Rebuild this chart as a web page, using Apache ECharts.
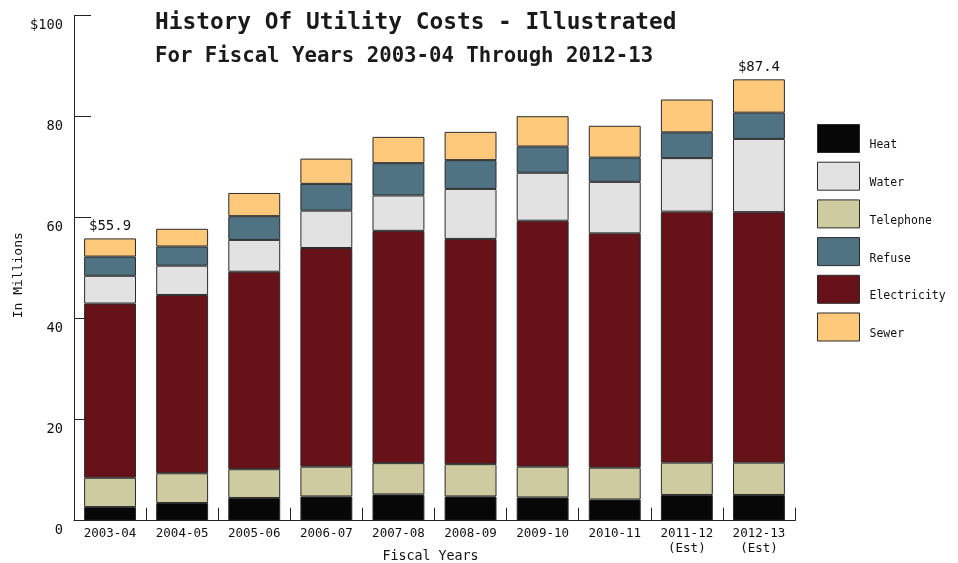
<!DOCTYPE html>
<html>
<head>
<meta charset="utf-8">
<script src="https://cdn.jsdelivr.net/npm/echarts@6/dist/echarts.min.js"></script>
<style>
html,body{margin:0;padding:0;background:#fff;}
#chart{width:958px;height:563px;}
</style>
</head>
<body>
<div id="chart"></div>
<script>
var categories = ['2003-04','2004-05','2005-06','2006-07','2007-08','2008-09','2009-10','2010-11','2011-12\n(Est)','2012-13\n(Est)'];
var heat        = [2.7, 3.5, 4.5, 4.8, 5.2, 4.8, 4.6, 4.2, 5.1, 5.1];
var telephone   = [5.8, 5.9, 5.7, 5.9, 6.2, 6.4, 6.1, 6.3, 6.4, 6.4];
var electricity = [34.5, 35.3, 39.1, 43.3, 46.0, 44.6, 48.7, 46.4, 49.7, 49.6];
var water       = [5.5, 5.8, 6.3, 7.4, 7.0, 9.9, 9.5, 10.2, 10.6, 14.5];
var refuse      = [3.8, 3.8, 4.7, 5.3, 6.4, 5.7, 5.2, 4.8, 5.1, 5.2];
var sewer       = [3.6, 3.5, 4.6, 5.0, 5.2, 5.6, 6.0, 6.3, 6.5, 6.6];
var totalLabels = ['$55.9','','','','','','','','','$87.4'];
var yTickLabels = {0:'0',20:'20',40:'40',60:'60',80:'80',100:'$100'};
var legendOrder = ['Heat','Water','Telephone','Refuse','Electricity','Sewer'];

var mono = 'DejaVu Sans Mono';
var colors = {
  Heat:'#070707', Telephone:'#cfcba1', Electricity:'#671118',
  Water:'#e1e2e1', Refuse:'#4f7383', Sewer:'#fec97b'
};
var stackDefs = [
  ['Heat', heat], ['Telephone', telephone], ['Electricity', electricity],
  ['Water', water], ['Refuse', refuse], ['Sewer', sewer]
];
var series = stackDefs.map(function(d, si){
  var name = d[0];
  var data = d[1].map(function(v, i){
    if (name === 'Sewer' && totalLabels[i]) {
      return {value: v, label: {show: true, formatter: totalLabels[i]}};
    }
    return v;
  });
  return {
    name: name, type: 'bar', stack: 'total', barWidth: '72%',
    data: data,
    itemStyle: {color: colors[name], borderColor: '#2b2b2b', borderWidth: 1},
    label: {show: false, position: 'top', distance: 5, fontFamily: mono, fontSize: 14, color: '#111'},
    emphasis: {disabled: true}
  };
});

var chart = echarts.init(document.getElementById('chart'), null, {renderer: 'canvas'});
chart.setOption({
  animation: false,
  backgroundColor: '#fff',
  title: [
    {text: 'History Of Utility Costs - Illustrated', left: 155, top: 12, padding: 0,
     textStyle: {fontFamily: mono, fontWeight: 'bold', fontSize: 22.8, color: '#1a1a1a'}},
    {text: 'For Fiscal Years 2003-04 Through 2012-13', left: 155, top: 46, padding: 0,
     textStyle: {fontFamily: mono, fontWeight: 'bold', fontSize: 20.7, color: '#1a1a1a'}}
  ],
  legend: {
    data: legendOrder, orient: 'vertical', left: 817, top: 124, padding: 0,
    itemWidth: 42, itemHeight: 28, itemGap: 8.7,
    icon: 'rect', selectedMode: false,
    itemStyle: {borderColor: '#2b2b2b', borderWidth: 1},
    formatter: function(name){ return '\n' + name; },
    textStyle: {fontFamily: mono, fontSize: 11.5, color: '#111', lineHeight: 14, padding: [0, 0, 0, 5]}
  },
  grid: {left: 74, right: 163, top: 15.7, bottom: 42.3, outerBoundsMode: 'none', containLabel: false},
  xAxis: {
    type: 'category', data: categories,
    axisLine: {lineStyle: {color: '#222', width: 1}},
    axisTick: {show: true, inside: true, length: 13, lineStyle: {color: '#222'}},
    axisLabel: {fontFamily: mono, fontSize: 12.5, color: '#111', margin: 6, interval: 0, lineHeight: 15},
    name: 'Fiscal Years', nameLocation: 'middle', nameGap: 29, nameMoveOverlap: false,
    nameTextStyle: {fontFamily: mono, fontSize: 13.3, color: '#111', padding: [0, 0, 0, -8]}
  },
  yAxis: {
    type: 'value', min: 0, max: 100, interval: 20,
    axisLine: {show: true, lineStyle: {color: '#222', width: 1}},
    axisTick: {show: true, inside: true, length: 17, lineStyle: {color: '#222'}},
    splitLine: {show: false},
    axisLabel: {fontFamily: mono, fontSize: 13.7, color: '#111', margin: 11,
      verticalAlign: 'top', padding: [3, 0, 0, 0],
      formatter: function(v){ return yTickLabels[v] !== undefined ? yTickLabels[v] : v; }},
    name: 'In Millions', nameLocation: 'middle', nameGap: 49, nameMoveOverlap: false,
    nameTextStyle: {fontFamily: mono, fontSize: 13, color: '#111', padding: [0, 14, 0, 0]}
  },
  series: series
});
</script>
</body>
</html>
